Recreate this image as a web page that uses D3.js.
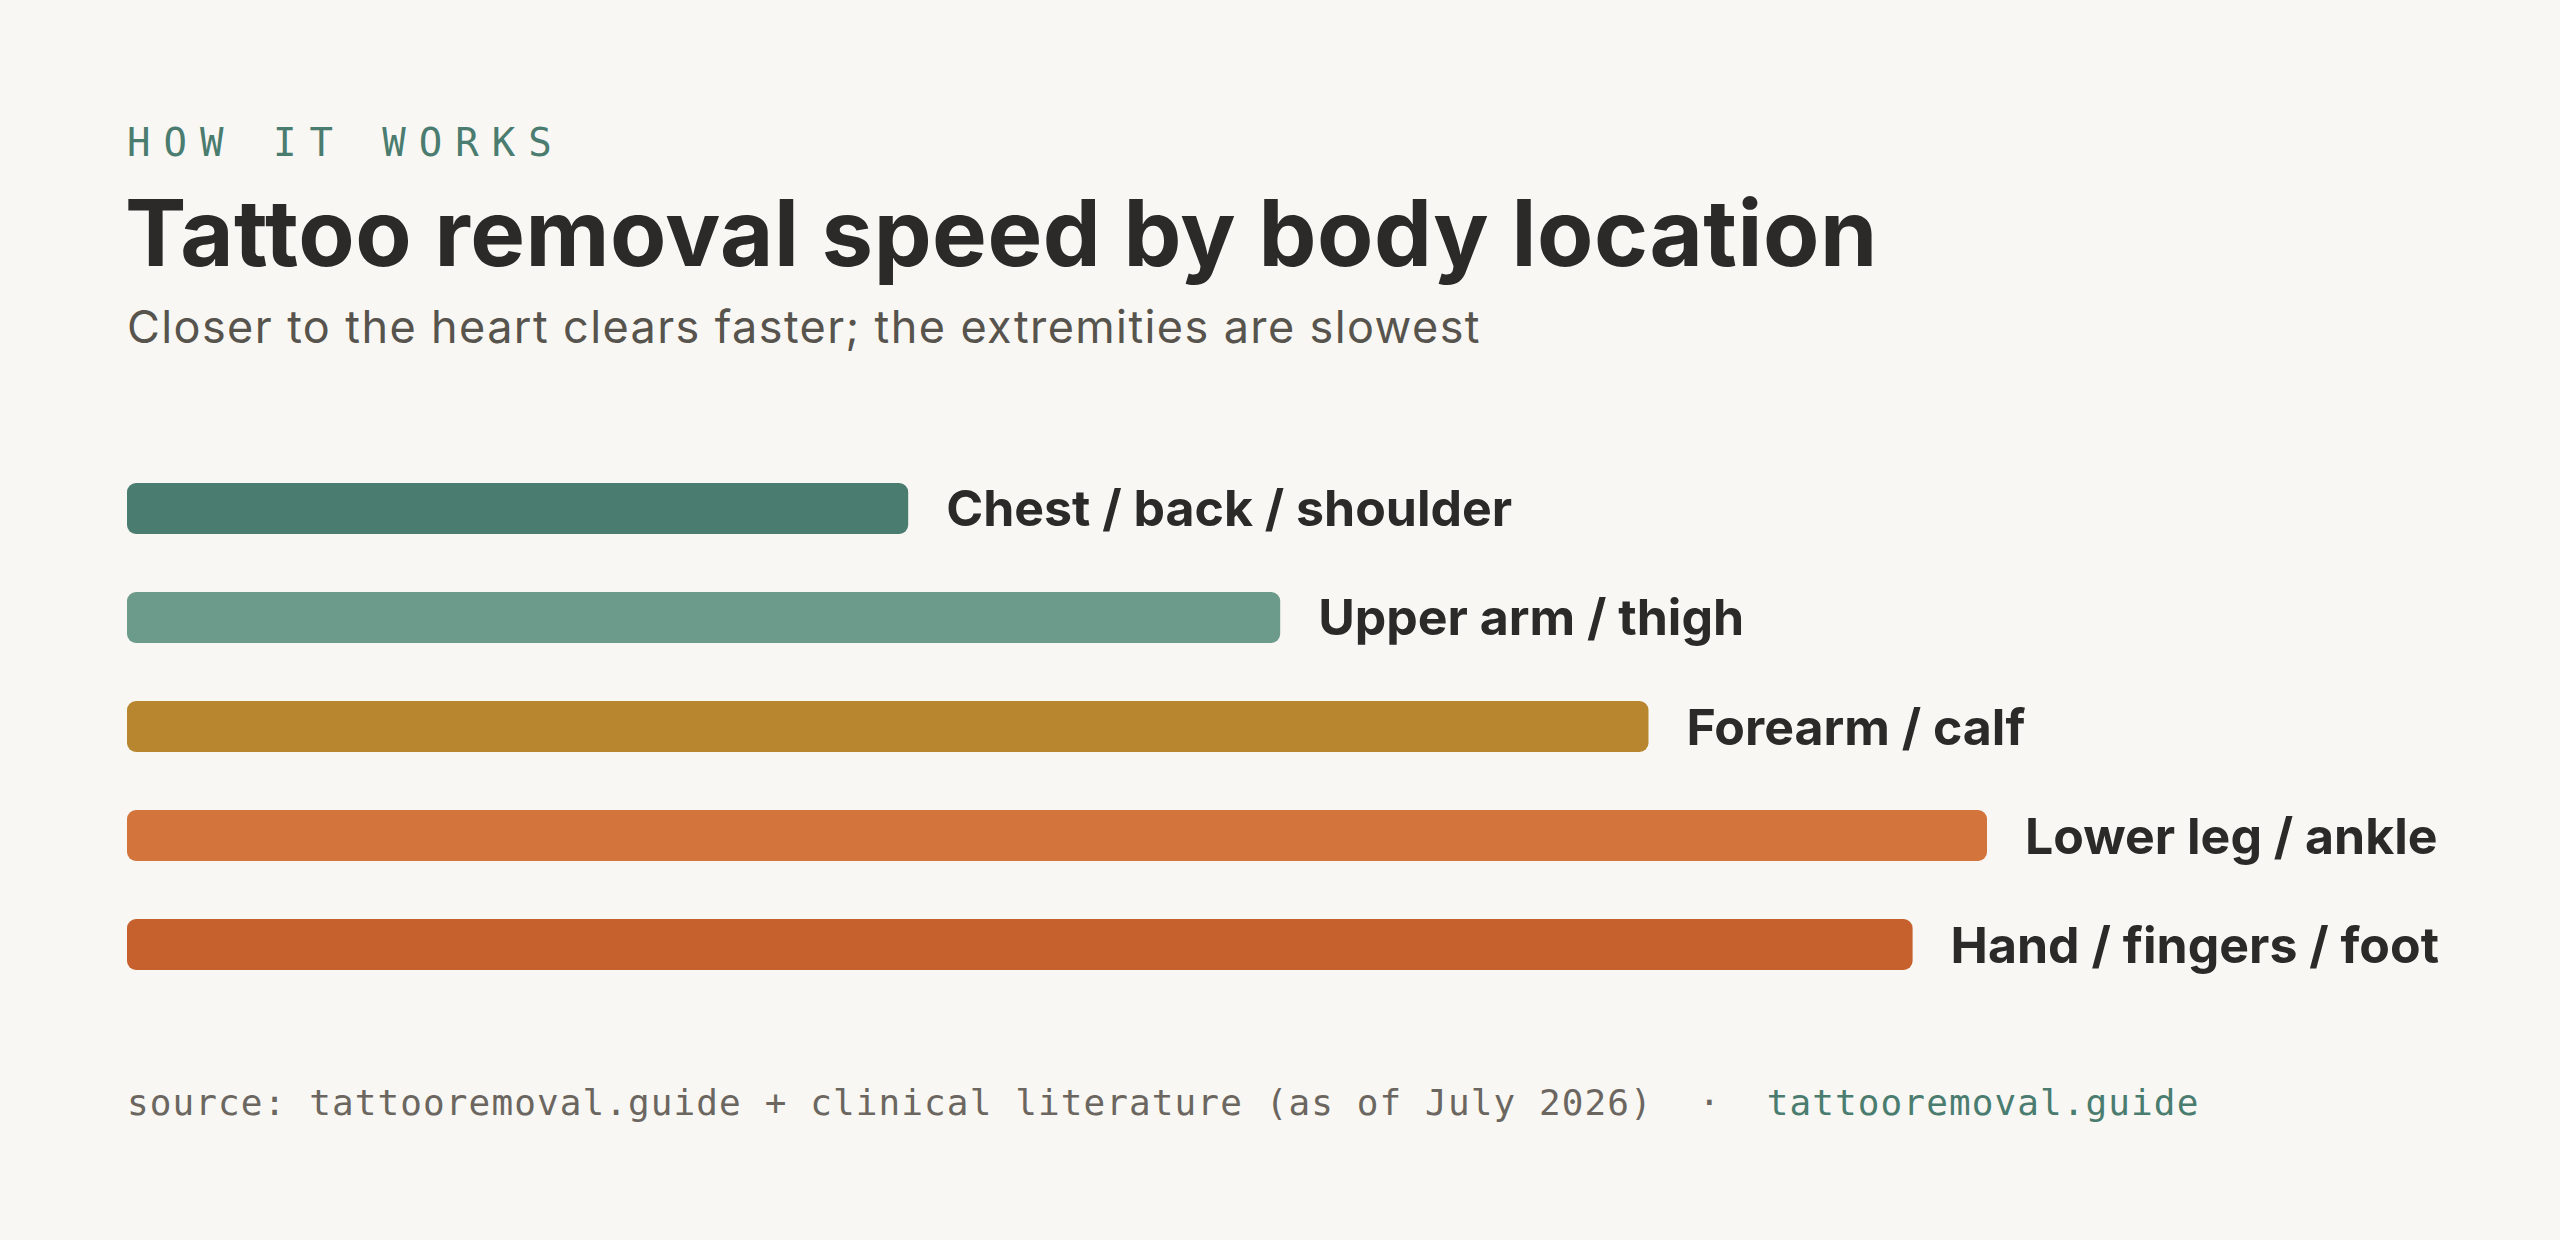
<!DOCTYPE html>
<html>
<head>
<meta charset="utf-8">
<script src="https://cdn.jsdelivr.net/npm/d3@7"></script>
<style>
  html, body { margin: 0; padding: 0; background: #f8f7f3; }
  svg { display: block; }
</style>
</head>
<body>
<script>
// ---- data ----
const categories = ["Chest / back / shoulder", "Upper arm / thigh", "Forearm / calf", "Lower leg / ankle", "Hand / fingers / foot"];
const slownessScore = [42, 62, 81.8, 100, 96];
const barColors = ["#4a7c6f", "#6c9a8b", "#b8862f", "#d2743c", "#c6612e"];
const kicker = "HOW IT WORKS";
const title = "Tattoo removal speed by body location";
const subtitle = "Closer to the heart clears faster; the extremities are slowest";
const sourceText = "source: tattooremoval.guide + clinical literature (as of July 2026)";
const sourceLink = "tattooremoval.guide";

const W = 2560, H = 1240;
const left = 127;

const svg = d3.select("body").append("svg").attr("width", W).attr("height", H);
svg.append("rect").attr("width", W).attr("height", H).attr("fill", "#f8f7f3");

svg.append("text").attr("x", left).attr("y", 156)
  .attr("font-family", "'DejaVu Sans Mono', monospace").attr("font-size", 39)
  .attr("letter-spacing", "13px").attr("fill", "#4a7c6f").text(kicker);

svg.append("text").attr("x", left - 2).attr("y", 266)
  .attr("font-family", "Inter, sans-serif").attr("font-weight", 700).attr("font-size", 92)
  .attr("letter-spacing", "0.5px").attr("fill", "#2b2a28").text(title);

svg.append("text").attr("x", left).attr("y", 343)
  .attr("font-family", "Inter, sans-serif").attr("font-size", 45)
  .attr("letter-spacing", "1.4px").attr("fill", "#57534d").text(subtitle);

const x = d3.scaleLinear().domain([0, 100]).range([left, 1987]);
const y = d3.scaleBand().domain(categories).range([425, 1028]).padding(0.532);

const g = svg.append("g");
g.selectAll("rect.bar").data(categories).join("rect")
  .attr("class", "bar")
  .attr("x", x(0))
  .attr("y", d => y(d))
  .attr("width", (d, i) => x(slownessScore[i]) - x(0))
  .attr("height", y.bandwidth())
  .attr("rx", 9).attr("ry", 9)
  .attr("fill", (d, i) => barColors[i]);

g.selectAll("text.lbl").data(categories).join("text")
  .attr("class", "lbl")
  .attr("x", (d, i) => x(slownessScore[i]) + 38)
  .attr("y", d => y(d) + y.bandwidth() / 2)
  .attr("dy", "0.36em")
  .attr("font-family", "Inter, sans-serif").attr("font-weight", 700).attr("font-size", 50)
  .attr("letter-spacing", "0px")
  .attr("fill", "#2b2a28").text(d => d);

const foot = svg.append("text").attr("x", left).attr("y", 1115)
  .attr("font-family", "'DejaVu Sans Mono', monospace").attr("font-size", 36)
  .attr("letter-spacing", "1.1px")
  .style("white-space", "pre").attr("xml:space", "preserve");
foot.append("tspan").attr("fill", "#6b6660").text(sourceText + "  ·  ");
foot.append("tspan").attr("fill", "#4a7c6f").text(sourceLink);
</script>
</body>
</html>
